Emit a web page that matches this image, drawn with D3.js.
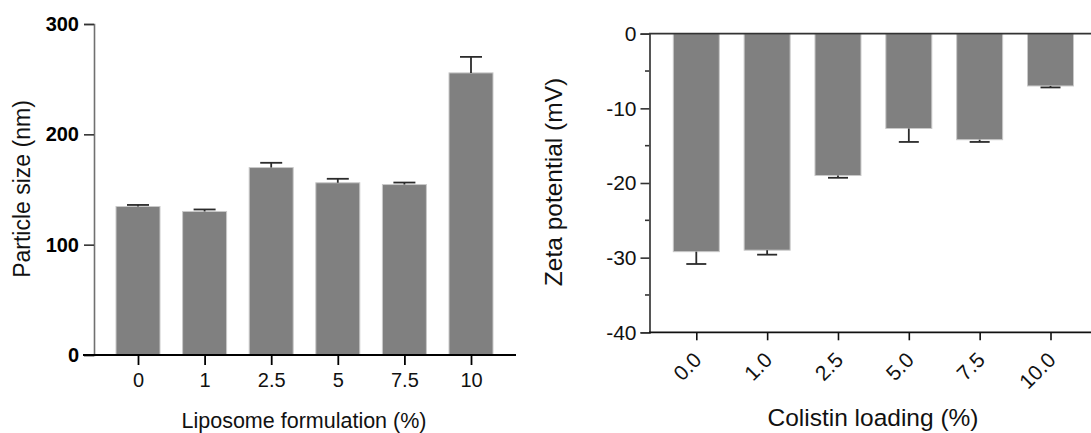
<!DOCTYPE html>
<html><head><meta charset="utf-8">
<script src="https://cdn.jsdelivr.net/npm/d3@7"></script>
<style>
body{margin:0;background:#fff;}
svg{display:block;font-family:"Liberation Sans",Arial,sans-serif;}
</style></head>
<body>
<svg id="chart" width="1091" height="433"></svg>
<script>
// Left panel: particle size
const sizeCategories = ["0","1","2.5","5","7.5","10"];
const sizeValues = [134.6, 130.1, 169.9, 156.1, 154.5, 255.7];
const sizeErrors = [1.4, 1.8, 4.3, 3.6, 1.8, 14.5];
const sizeTicks = [0, 100, 200, 300];
// Right panel: zeta potential
const zetaCategories = ["0.0","1.0","2.5","5.0","7.5","10.0"];
const zetaValues = [-29.2, -29.0, -19.0, -12.7, -14.2, -7.0];
const zetaErrors = [1.65, 0.6, 0.3, 1.8, 0.3, 0.2];
const zetaTicks = [0, -10, -20, -30, -40];
const zetaMinorTicks = [-5, -15, -25, -35];

const svg = d3.select("#chart");
const BAR = "#808080", BAR_EDGE = "#c9c9c9", ERR = "#2b2b2b";

// ---------- Left ----------
{
  const g = svg.append("g");
  const y = d3.scaleLinear().domain([0, 300]).range([355, 24]);
  const x = d3.scalePoint().domain(sizeCategories).range([138, 471]);
  const bw = 44;

  g.selectAll("rect.bar").data(sizeValues).enter().append("rect")
    .attr("x", (d,i) => x(sizeCategories[i]) - bw/2)
    .attr("y", d => y(d))
    .attr("width", bw)
    .attr("height", d => y(0) - y(d))
    .attr("fill", BAR).attr("stroke", BAR_EDGE).attr("stroke-width", 1);

  const eb = g.selectAll("g.err").data(sizeValues).enter().append("g")
    .attr("stroke", ERR).attr("stroke-width", 1.8);
  eb.append("line")
    .attr("x1", (d,i) => x(sizeCategories[i])).attr("x2", (d,i) => x(sizeCategories[i]))
    .attr("y1", d => y(d)).attr("y2", (d,i) => y(d + sizeErrors[i]));
  eb.append("line")
    .attr("x1", (d,i) => x(sizeCategories[i]) - 11).attr("x2", (d,i) => x(sizeCategories[i]) + 11)
    .attr("y1", (d,i) => y(d + sizeErrors[i])).attr("y2", (d,i) => y(d + sizeErrors[i]));

  // y axis
  const ya = g.append("g").attr("transform", "translate(94,0)")
    .call(d3.axisLeft(y).tickValues(sizeTicks).tickSize(10).tickPadding(5).tickFormat(d3.format("d")));
  ya.select(".domain").attr("stroke", "#707070").attr("stroke-width", 1.6);
  ya.selectAll(".tick line").attr("stroke", "#333").attr("stroke-width", 1.6);
  ya.selectAll(".tick text").attr("font-size", 20).attr("font-weight", "bold")
    .attr("fill", "#000").attr("font-family", "Liberation Sans, Arial, sans-serif");

  // x axis
  const xa = g.append("g").attr("transform", "translate(0,355)")
    .call(d3.axisBottom(x).tickSize(10).tickPadding(8));
  xa.select(".domain").remove();
  xa.append("line").attr("x1", 83).attr("x2", 516).attr("y1", 0).attr("y2", 0)
    .attr("stroke", "#000").attr("stroke-width", 2);
  xa.selectAll(".tick line").attr("stroke", "#000").attr("stroke-width", 1.8);
  xa.selectAll(".tick text").attr("font-size", 20).attr("fill", "#111")
    .attr("font-family", "Liberation Sans, Arial, sans-serif");

  g.append("text").attr("x", 304).attr("y", 428).attr("text-anchor", "middle")
    .attr("font-size", 21.5).attr("fill", "#111").text("Liposome formulation (%)");
  g.append("text").attr("transform", "translate(30,189) rotate(-90)").attr("text-anchor", "middle")
    .attr("font-size", 23).attr("fill", "#111").text("Particle size (nm)");
}

// ---------- Right ----------
{
  const g = svg.append("g");
  const y = d3.scaleLinear().domain([-40, 0]).range([332.3, 33.7]);
  const x = d3.scalePoint().domain(zetaCategories).range([696.3, 1050.5]);
  const bw = 46;

  g.selectAll("rect.bar").data(zetaValues).enter().append("rect")
    .attr("x", (d,i) => x(zetaCategories[i]) - bw/2)
    .attr("y", y(0))
    .attr("width", bw)
    .attr("height", d => y(d) - y(0))
    .attr("fill", BAR).attr("stroke", BAR_EDGE).attr("stroke-width", 1);

  const eb = g.selectAll("g.err").data(zetaValues).enter().append("g")
    .attr("stroke", ERR).attr("stroke-width", 1.8);
  eb.append("line")
    .attr("x1", (d,i) => x(zetaCategories[i])).attr("x2", (d,i) => x(zetaCategories[i]))
    .attr("y1", d => y(d)).attr("y2", (d,i) => y(d - zetaErrors[i]));
  eb.append("line")
    .attr("x1", (d,i) => x(zetaCategories[i]) - 10).attr("x2", (d,i) => x(zetaCategories[i]) + 10)
    .attr("y1", (d,i) => y(d - zetaErrors[i])).attr("y2", (d,i) => y(d - zetaErrors[i]));

  // minor ticks
  g.selectAll("line.minor").data(zetaMinorTicks).enter().append("line")
    .attr("x1", 645).attr("x2", 649.5).attr("y1", d => y(d)).attr("y2", d => y(d))
    .attr("stroke", "#333").attr("stroke-width", 1.6);

  const ya = g.append("g").attr("transform", "translate(649.5,0)")
    .call(d3.axisLeft(y).tickValues(zetaTicks).tickSize(9).tickPadding(4).tickFormat(d => d3.format("d")(d).replace("−","-")));
  ya.select(".domain").attr("stroke", "#444").attr("stroke-width", 1.8);
  ya.selectAll(".tick line").attr("stroke", "#333").attr("stroke-width", 1.6);
  ya.selectAll(".tick text").attr("font-size", 21).attr("fill", "#111")
    .attr("font-family", "Liberation Sans, Arial, sans-serif");

  // top zero line
  g.append("line").attr("x1", 649).attr("x2", 1091).attr("y1", y(0)).attr("y2", y(0))
    .attr("stroke", "#333").attr("stroke-width", 1.8);

  const xa = g.append("g").attr("transform", "translate(0,332.3)")
    .call(d3.axisBottom(x).tickSize(8).tickPadding(6));
  xa.select(".domain").remove();
  xa.append("line").attr("x1", 649).attr("x2", 1091).attr("y1", 0).attr("y2", 0)
    .attr("stroke", "#111").attr("stroke-width", 1.8);
  xa.selectAll(".tick line").attr("stroke", "#111").attr("stroke-width", 1.6);
  xa.selectAll(".tick text").attr("font-size", 21).attr("fill", "#111")
    .attr("font-family", "Liberation Sans, Arial, sans-serif")
    .attr("text-anchor", "end")
    .attr("transform", "translate(6,29) rotate(-45)")
    .attr("dy", 0).attr("y", 0).attr("x", 0);

  g.append("text").attr("x", 873).attr("y", 426).attr("text-anchor", "middle")
    .attr("font-size", 24.5).attr("fill", "#111").text("Colistin loading (%)");
  g.append("text").attr("transform", "translate(562,182) rotate(-90)").attr("text-anchor", "middle")
    .attr("font-size", 24.5).attr("fill", "#111").text("Zeta potential (mV)");
}
</script>
</body></html>
